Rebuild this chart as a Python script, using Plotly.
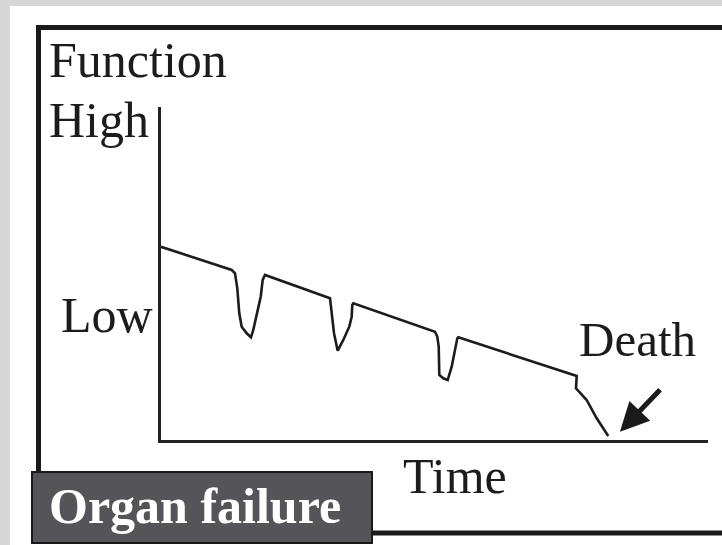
import plotly.graph_objects as go

W, H = 722, 545

# Function (0-100 scale) over time (0-100 scale)
time = [0, 12.93, 13.53, 13.95, 14.31, 14.75, 15.67, 16.45, 16.87, 17.61, 18.23, 18.59, 19.01,
        30.90, 31.21, 31.63, 32.30, 33.33, 34.42, 34.86, 34.97, 35.16,
        50.09, 50.51, 50.77, 50.88, 51.61, 52.41, 53.14, 53.75, 54.17, 54.35,
        76.00, 75.87, 77.82, 79.65, 81.77]
function = [60.0, 52.80, 51.77, 47.11, 39.35, 35.19, 33.14, 31.89, 34.16, 39.35, 44.50, 49.69, 51.24,
            44.01, 39.35, 33.14, 27.73, 31.06, 35.19, 38.29, 41.93, 42.45,
            33.63, 32.08, 28.98, 20.19, 19.16, 18.63, 22.76, 27.95, 31.58, 31.89,
            19.88, 16.06, 12.42, 6.74, 1.24]

death_tip = (83.9, 2.6)
death_tail = (91.5, 16.1)

labels = {"top": "Function", "high": "High", "low": "Low", "x": "Time",
          "death": "Death", "box": "Organ failure"}

def px(x):
    return x / W

def py(y):
    return 1 - y / H

fig = go.Figure()
fig.add_trace(go.Scatter(x=time, y=function, mode="lines",
                         line=dict(color="#1c1c1c", width=2.6),
                         hoverinfo="skip", showlegend=False))

serif = "Liberation Serif, Times New Roman, serif"
ink = "#1c1c1c"

fig.update_layout(
    width=W, height=H,
    margin=dict(l=0, r=0, t=0, b=0),
    paper_bgcolor="white", plot_bgcolor="white",
    xaxis=dict(domain=[px(161), px(708)], range=[0, 100], showgrid=False,
               zeroline=False, showticklabels=False, ticks="",
               showline=True, linecolor="#222222", linewidth=3),
    yaxis=dict(domain=[py(440), py(107)], range=[0, 103.4], showgrid=False,
               zeroline=False, showticklabels=False, ticks="",
               showline=True, linecolor="#222222", linewidth=3),
    showlegend=False,
)

shapes = [
    # dotted page background strips
    dict(type="rect", xref="paper", yref="paper", x0=0, x1=px(10), y0=0, y1=1,
         fillcolor="#d6d6d6", line=dict(width=0), layer="below"),
    dict(type="rect", xref="paper", yref="paper", x0=0, x1=1, y0=py(6), y1=1,
         fillcolor="#d6d6d6", line=dict(width=0), layer="below"),
    # frame
    dict(type="rect", xref="paper", yref="paper", x0=px(38.5), x1=px(760),
         y0=py(533), y1=py(27.5), line=dict(color="#1a1a1a", width=5),
         fillcolor="rgba(0,0,0,0)", layer="above"),
    # label box
    dict(type="rect", xref="paper", yref="paper", x0=px(32), x1=px(372),
         y0=py(543), y1=py(472), line=dict(color="#1a1a1a", width=2),
         fillcolor="#555559", layer="above"),
]
fig.update_layout(shapes=shapes)

def txt(s, x, ymid, size=50, color=ink, bold=False):
    fig.add_annotation(text=("<b>%s</b>" % s) if bold else s, xref="paper", yref="paper",
                       x=px(x), y=py(ymid), xanchor="left", yanchor="middle",
                       showarrow=False, borderpad=0,
                       font=dict(family=serif, size=size, color=color))

txt(labels["top"], 48, 60)
txt(labels["high"], 48, 120)
txt(labels["low"], 60, 315)
txt(labels["death"], 578, 339, size=49)
txt(labels["x"], 402, 476)
txt(labels["box"], 48, 506, color="white", bold=True)

fig.add_annotation(x=death_tip[0], y=death_tip[1], ax=death_tail[0], ay=death_tail[1],
                   xref="x", yref="y", axref="x", ayref="y", text="",
                   showarrow=True, arrowhead=2, arrowsize=1.15, arrowwidth=5,
                   arrowcolor="#1a1a1a")

fig.write_html("out.html",
               config={"displayModeBar": False, "staticPlot": True},
               post_script="document.body.style.margin='0';document.body.style.overflow='hidden';")
